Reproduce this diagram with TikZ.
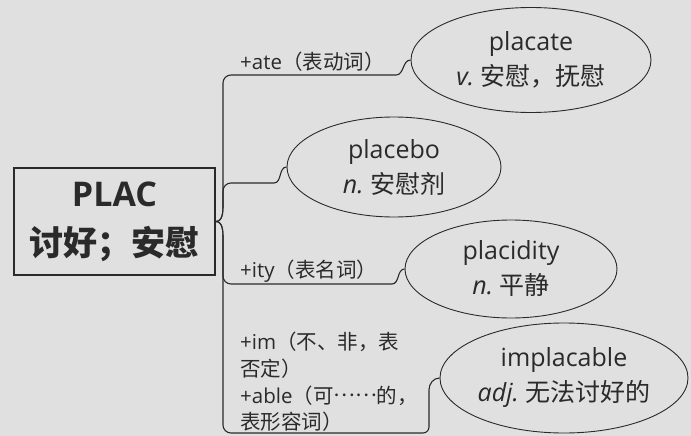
\documentclass[tikz,border=0pt]{standalone}
\usepackage{fontspec}
\setmainfont{Open Sans}
\newfontfamily\cjk{Noto Sans CJK SC}
\usetikzlibrary{shapes.geometric}
\definecolor{bg}{HTML}{E0E0E0}
\definecolor{ink}{HTML}{2A2A2A}
\begin{document}
\begin{tikzpicture}[x=1pt,y=-1pt,
 conn/.style={draw=ink, line width=1.1pt},
 word/.style={ellipse, draw=ink, line width=0.9pt, inner sep=0pt, align=center, text=ink, font=\fontsize{25}{35}\selectfont},
 lbl/.style={anchor=west, text=ink, inner sep=0pt, align=left, font=\fontsize{20.5}{26.7}\selectfont}]
\fill[bg] (0,0) rectangle (691,436);
\useasboundingbox (0,0) rectangle (691,436);
\node[draw=ink, line width=1.3pt, minimum width=201pt, minimum height=107pt, align=center, font=\bfseries\fontsize{34}{49}\selectfont, text=ink, inner sep=0pt] (root) at (114.5,221.5) {PLAC\\{\cjk 讨好；安慰}};
\node[word, minimum width=240pt, minimum height=105pt] (e1) at (531,60) {placate\\\textit{v.}~{\cjk 安慰，抚慰}};
\node[word, minimum width=214pt, minimum height=100pt] (e2) at (394,167) {placebo\\\textit{n.}~{\cjk 安慰剂}};
\node[word, minimum width=212pt, minimum height=98pt] (e3) at (511,269) {placidity\\\textit{n.}~{\cjk 平静}};
\node[word, minimum width=248pt, minimum height=110pt] (e4) at (564,378) {implacable\\\textit{adj.}~{\cjk 无法讨好的}};
\node[lbl] (l1) at (240,62) {+ate{\cjk （表动词）}};
\node[lbl] (l3) at (240,271) {+ity{\cjk （表名词）}};
\node[lbl] (l4) at (240,382) {+im{\cjk （不、非，表}\\{\cjk 否定）}\\+able{\cjk （可\raisebox{0.3em}{……}的，}\\{\cjk 表形容词）}};
\draw[conn] (root.east) to[out=0,in=-90] (223,205) -- (223,83) to[out=90,in=180] (231,75) -- (396,75) to[out=0,in=180] (e1.west);
\draw[conn] (root.east) to[out=0,in=-90] (223,205) -- (223,191) to[out=90,in=180] (231,183) -- (274,183) to[out=0,in=180] (e2.west);
\draw[conn] (root.east) to[out=0,in=90] (223,238) -- (223,276) to[out=-90,in=180] (231,284) -- (392,284) to[out=0,in=180] (e3.west);
\draw[conn] (root.east) to[out=0,in=90] (223,238) -- (223,425) to[out=-90,in=180] (231,433) -- (423,433) to[out=0,in=-90] (429,427) -- (429,390) to[out=90,in=180] (e4.west);
\end{tikzpicture}
\end{document}
